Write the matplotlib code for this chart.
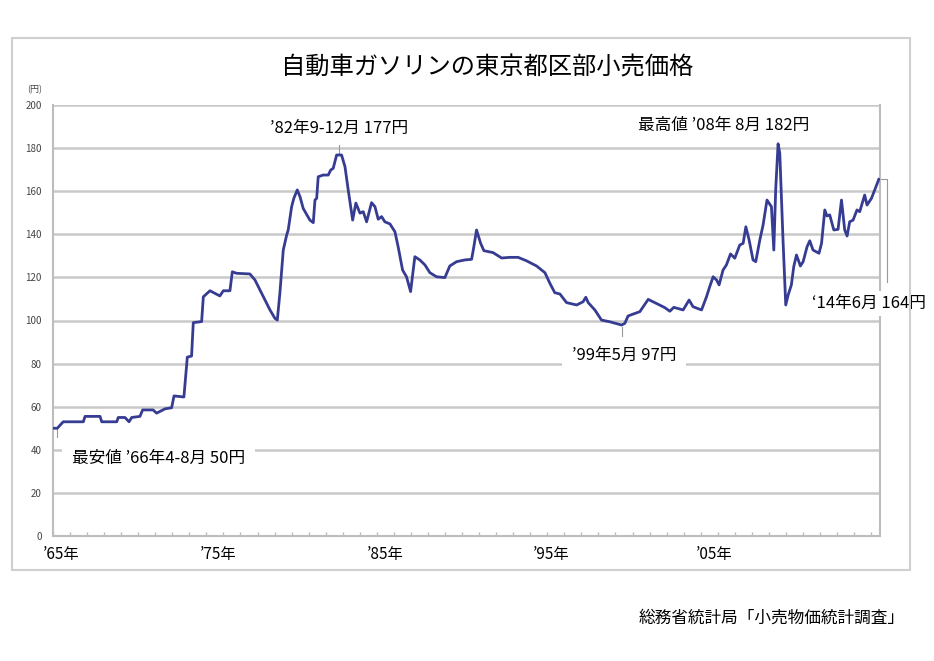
#!/usr/bin/env python3
import numpy as np
import matplotlib
matplotlib.use("Agg")
import matplotlib.pyplot as plt
from matplotlib.patches import Rectangle

plt.rcParams['font.family'] = ['Noto Sans CJK JP', 'DejaVu Sans']

# decimal year, yen per litre
years = [1966.0, 1966.25, 1966.60, 1967.78, 1967.88, 1968.76, 1968.86, 1969.74, 1969.83,
         1970.22, 1970.46, 1970.62, 1971.10, 1971.26, 1971.87, 1972.08, 1972.57, 1972.96,
         1973.10, 1973.68, 1973.88, 1974.13, 1974.23, 1974.72, 1974.82, 1975.21, 1975.50,
         1975.79, 1975.99, 1976.38, 1976.52, 1976.77, 1977.55, 1977.85, 1978.24, 1978.73,
         1979.02, 1979.16, 1979.31, 1979.51, 1979.71, 1979.80, 1980.00, 1980.13, 1980.33,
         1980.49, 1980.68, 1981.07, 1981.27, 1981.37, 1981.47, 1981.56, 1981.85, 1982.15,
         1982.29, 1982.44, 1982.64, 1982.93, 1983.13, 1983.32, 1983.58, 1983.77, 1984.01,
         1984.20, 1984.40, 1984.69, 1984.89, 1985.08, 1985.28, 1985.47, 1985.77, 1986.06,
         1986.25, 1986.51, 1986.74, 1986.98, 1987.23, 1987.52, 1987.82, 1988.11, 1988.50,
         1988.99, 1989.28, 1989.68, 1990.16, 1990.56, 1990.69, 1990.85, 1991.09, 1991.28,
         1991.82, 1992.32, 1992.80, 1993.29, 1993.78, 1994.37, 1994.86, 1995.15, 1995.44,
         1995.74, 1996.13, 1996.72, 1997.10, 1997.26, 1997.40, 1997.79, 1998.18, 1998.67,
         1999.36, 1999.55, 1999.74, 2000.04, 2000.43, 2000.92, 2001.41, 2001.89, 2002.19,
         2002.42, 2002.97, 2003.32, 2003.55, 2004.05, 2004.34, 2004.53, 2004.73, 2004.93,
         2005.08, 2005.31, 2005.51, 2005.75, 2006.00, 2006.29, 2006.49, 2006.65, 2006.84,
         2007.07, 2007.23, 2007.47, 2007.66, 2007.89, 2008.15, 2008.29, 2008.40, 2008.54,
         2008.64, 2008.83, 2008.99, 2009.13, 2009.32, 2009.46, 2009.62, 2009.85, 2010.01,
         2010.24, 2010.40, 2010.59, 2010.94, 2011.09, 2011.28, 2011.41, 2011.57, 2011.81,
         2012.06, 2012.26, 2012.45, 2012.59, 2012.74, 2012.94, 2013.17, 2013.33, 2013.62,
         2013.76, 2014.02, 2014.21, 2014.45]
price = [50, 50, 53, 53, 55.5, 55.5, 53, 53, 55,
         55, 53, 55, 55.5, 58.5, 58.5, 57, 59, 59.5,
         65, 64.5, 83, 83.5, 99, 99.5, 111, 113.8, 112.6,
         111.4, 113.8, 113.8, 122.6, 121.9, 121.6, 118.8, 112.6, 104.9,
         101, 100.2, 112.6, 132.7, 139.7, 142, 152.8, 156.7, 160.6,
         157.5, 152, 146.6, 145.4, 155.9, 156.7, 166.7, 167.5, 167.5,
         169.8, 170.6, 176.8, 176.8, 171.4, 160.6, 146.6, 154.5, 149.8,
         150.5, 145.8, 154.7, 152.8, 147, 148.2, 145.8, 144.8, 141.2,
         134.2, 123.4, 120.3, 113.4, 129.6, 128.1, 125.8, 122.2, 120.3,
         119.9, 125.3, 127.3, 128.1, 128.4, 134.2, 142, 135.8, 132.4,
         131.5, 129, 129.3, 129.3, 127.7, 125.3, 122.2, 117.3, 112.9,
         112.3, 108.3, 107.2, 108.7, 110.8, 108.3, 104.9, 100.2, 99.4,
         97.9, 98.7, 102.1, 103, 104.1, 109.8, 107.9, 106, 104.3,
         106.1, 104.9, 109.5, 106.4, 104.9, 111, 115.7, 120.3, 118.8,
         116.5, 123.4, 125.8, 130.9, 128.9, 135, 135.8, 143.5, 137.4,
         128.1, 127.3, 137.4, 144.3, 155.9, 152.8, 132.7, 160.6, 182,
         177.6, 137.4, 107.2, 111.8, 116.5, 125, 130.4, 125.3, 127.3,
         134.2, 137, 132.7, 131.2, 135.8, 151.3, 148.5, 149, 142,
         142.3, 155.9, 142, 139.2, 145.8, 146.6, 151.3, 150.5, 158.2,
         153.6, 156.7, 160.6, 165.5]

yticks = list(range(0, 201, 20))
decade_pos = [1966.5, 1975.7, 1985.5, 1995.2, 2004.8]
decade_lab = ['’65年', '’75年', '’85年', '’95年', '’05年']

title = '自動車ガソリンの東京都区部小売価格'
source = '総務省統計局「小売物価統計調査」'

fig = plt.figure(figsize=(9.34, 6.61), dpi=100)
fig.patches.append(Rectangle((12/934, 1-570/661), 898/934, 532/661, transform=fig.transFigure,
                             fill=False, edgecolor='#cfcfcf', linewidth=1.5))
ax = fig.add_axes([53/934, 1-536/661, 827/934, 431/661])

ax.plot(years, price, color='#363c92', linewidth=2.0, solid_joinstyle='round', zorder=3)

ax.set_xlim(1966.0, 2014.52)
ax.set_ylim(0, 200)
ax.set_yticks(yticks)
ax.yaxis.grid(True, color='#c9c9c9', linewidth=1.8)
ax.set_axisbelow(True)
ax.tick_params(axis='y', length=0, labelsize=7, labelcolor='#444444', pad=8)
ax.set_xticks(decade_pos)
ax.set_xticklabels(decade_lab, fontsize=11)
ax.set_xticks(np.arange(1966, 2015), minor=True)
ax.tick_params(axis='x', which='major', length=0, pad=7)
ax.tick_params(axis='x', which='minor', length=3, direction='in', color='#bbbbbb', width=1)
for s in ['left', 'bottom', 'right']:
    ax.spines[s].set_color('#bdbdbd')
    ax.spines[s].set_linewidth(1.5)
ax.spines['top'].set_visible(False)

fig.text(35/934, 1-90/661, '(円)', fontsize=6.5, color='#444444', ha='center', va='center')
fig.text(487/934, 1-68/661, title, fontsize=17.5, ha='center', va='center')
fig.text(905/934, 1-618/661, source, fontsize=12, ha='right', va='center')

white = dict(facecolor='white', edgecolor='none', pad=7)
ann = 12
# 1982 peak
ax.plot([1982.78, 1982.78], [177.5, 181.5], color='#999999', lw=0.8)
ax.text(1982.78, 189, '’82年9-12月 177円', fontsize=ann, ha='center', va='center')
# 2008 peak
ax.text(2005.35, 190.5, '最高値 ’08年 8月 182円', fontsize=ann, ha='center', va='center')
# 1999 low
ax.plot([1999.36, 1999.36], [93, 97], color='#999999', lw=0.8)
ax.text(1999.5, 84, '’99年5月 97円', fontsize=ann, ha='center', va='center', bbox=white)
# 1966 low
ax.plot([1966.25, 1966.25], [46, 50], color='#999999', lw=0.8)
ax.text(1967.1, 36, '最安値 ’66年4-8月 50円', fontsize=ann, ha='left', va='center', bbox=white)
# latest
ax.plot([2014.45, 2014.95, 2014.95], [165.5, 165.5, 118], color='#999999', lw=0.8, clip_on=False)
ax.text(2013.9, 108, '‘14年6月 164円', fontsize=ann, ha='center', va='center',
        bbox=dict(facecolor='white', edgecolor='none', pad=3), zorder=5, clip_on=False)

fig.savefig('out.png', dpi=100)
